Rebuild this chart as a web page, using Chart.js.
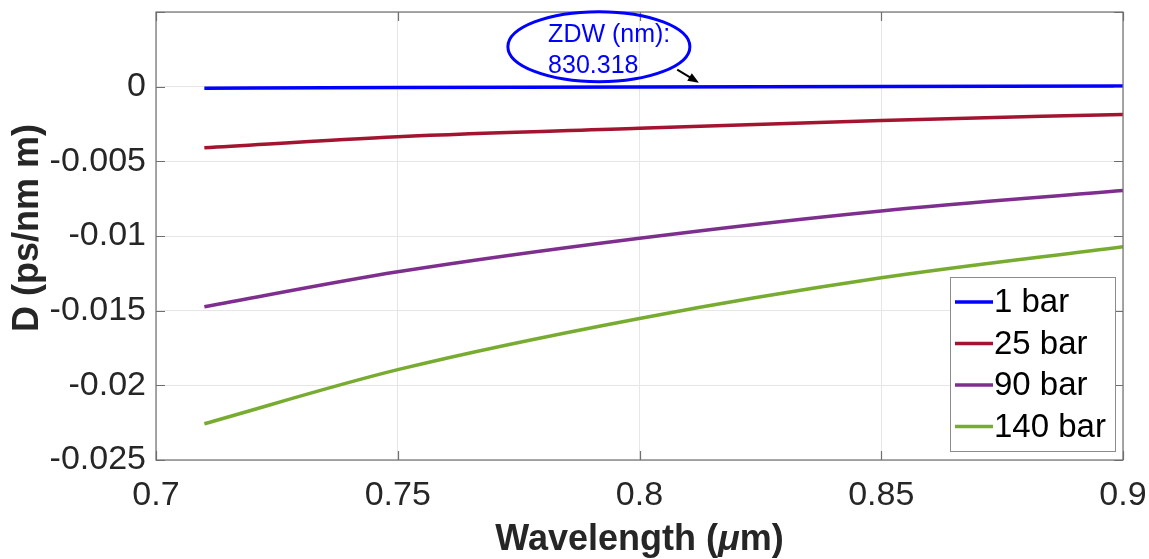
<!DOCTYPE html>
<html>
<head>
<meta charset="utf-8">
<script src="https://cdn.jsdelivr.net/npm/chart.js@4.4.0/dist/chart.umd.min.js"></script>
<style>
    html, body { margin: 0; padding: 0; background: #fff; }
    #wrap { width: 1149px; height: 559px; position: relative; }
</style>
</head>
<body>
<div id="wrap"><canvas id="myCanvas"></canvas></div>
<script>
// dispersion D (ps/nm m) vs wavelength (um) for each pressure
const wavelength = [0.71, 0.75, 0.8, 0.85, 0.9];
const d1bar = [-0.0001, -0.00006, -0.00002, 0.00001, 0.00004];
const d25bar = [-0.00409, -0.00336, -0.00279, -0.00226, -0.00186];
const d90bar = [-0.01474, -0.0124, -0.01015, -0.00832, -0.00696];
const d140bar = [-0.02257, -0.01895, -0.01552, -0.0128, -0.01072];
const seriesNames = ["1 bar", "25 bar", "90 bar", "140 bar"];
const seriesColors = ["#0000ff", "#a2142f", "#7e2f8e", "#77ac30"];

const xTicks = [0.7, 0.75, 0.8, 0.85, 0.9];
const xTickLabels = ["0.7", "0.75", "0.8", "0.85", "0.9"];
const yTicks = [-0.025, -0.02, -0.015, -0.01, -0.005, 0, 0.005];
const yTickLabels = ["-0.025", "-0.02", "-0.015", "-0.01", "-0.005", "0", ""];

const zdwLines = ["ZDW (nm):", "830.318"];

const FONT = "'Liberation Sans', Arial, Helvetica, sans-serif";

function toPoints(ys) {
    return wavelength.map((x, i) => ({ x: x, y: ys[i] }));
}

const allSeries = [d1bar, d25bar, d90bar, d140bar];
const data = {
    datasets: allSeries.map((s, i) => ({
        label: seriesNames[i],
        data: toPoints(s),
        borderColor: seriesColors[i],
        backgroundColor: seriesColors[i],
        borderWidth: 3.5,
        pointRadius: 0,
        fill: false,
        cubicInterpolationMode: "monotone",
    })),
};

// box, inward ticks, callout, legend and axis titles
const framePlugin = {
    id: "frame",
    afterDatasetsDraw(chart) {
        const { ctx, chartArea: a, scales } = chart;
        const x = scales.x, y = scales.y;
        ctx.save();

        ctx.strokeStyle = "#6f6f6f";
        ctx.lineWidth = 1.2;
        ctx.strokeRect(a.left, a.top, a.right - a.left, a.bottom - a.top);

        const tl = 9;
        ctx.beginPath();
        yTicks.forEach((v) => {
            const py = Math.round(y.getPixelForValue(v)) + 0.5;
            ctx.moveTo(a.left, py); ctx.lineTo(a.left + tl, py);
            ctx.moveTo(a.right, py); ctx.lineTo(a.right - tl, py);
        });
        xTicks.forEach((v) => {
            const px = Math.round(x.getPixelForValue(v)) + 0.5;
            ctx.moveTo(px, a.bottom); ctx.lineTo(px, a.bottom - tl);
            ctx.moveTo(px, a.top); ctx.lineTo(px, a.top + tl);
        });
        ctx.stroke();

        // ZDW callout
        const cx = x.getPixelForValue(0.7916), cy = y.getPixelForValue(0.00268);
        ctx.strokeStyle = "#0000ff";
        ctx.lineWidth = 3;
        ctx.beginPath();
        ctx.ellipse(cx, cy, 91, 35, 0, 0, Math.PI * 2);
        ctx.stroke();
        ctx.fillStyle = "#0000ff";
        ctx.font = "25px " + FONT;
        ctx.textAlign = "left";
        ctx.textBaseline = "alphabetic";
        const tx = x.getPixelForValue(0.7811);
        ctx.fillText(zdwLines[0], tx, y.getPixelForValue(0.00302));
        ctx.fillText(zdwLines[1], tx, y.getPixelForValue(0.00094));

        const ax0 = x.getPixelForValue(0.8078), ay0 = y.getPixelForValue(0.00114);
        const ax1 = x.getPixelForValue(0.8123), ay1 = y.getPixelForValue(0.00027);
        const ang = Math.atan2(ay1 - ay0, ax1 - ax0);
        ctx.strokeStyle = "#000";
        ctx.fillStyle = "#000";
        ctx.lineWidth = 2;
        ctx.beginPath();
        ctx.moveTo(ax0, ay0);
        ctx.lineTo(ax1 - 6 * Math.cos(ang), ay1 - 6 * Math.sin(ang));
        ctx.stroke();
        ctx.beginPath();
        ctx.moveTo(ax1, ay1);
        ctx.lineTo(ax1 - 11 * Math.cos(ang) + 4.5 * Math.sin(ang), ay1 - 11 * Math.sin(ang) - 4.5 * Math.cos(ang));
        ctx.lineTo(ax1 - 11 * Math.cos(ang) - 4.5 * Math.sin(ang), ay1 - 11 * Math.sin(ang) + 4.5 * Math.cos(ang));
        ctx.closePath();
        ctx.fill();

        // legend box in lower right corner
        const lw = 165, lh = 174;
        const lx = a.right - 8 - lw, ly = a.bottom - 9 - lh;
        ctx.fillStyle = "#fff";
        ctx.fillRect(lx, ly, lw, lh);
        ctx.strokeStyle = "#8c8c8c";
        ctx.lineWidth = 1;
        ctx.strokeRect(lx + 0.5, ly + 0.5, lw, lh);
        ctx.font = "33px " + FONT;
        ctx.textBaseline = "middle";
        chart.data.datasets.forEach((ds, i) => {
            const ry = ly + 25 + i * 41.5;
            ctx.strokeStyle = ds.borderColor;
            ctx.lineWidth = 3.5;
            ctx.beginPath();
            ctx.moveTo(lx + 5, ry);
            ctx.lineTo(lx + 43, ry);
            ctx.stroke();
            ctx.fillStyle = "#000";
            ctx.fillText(ds.label, lx + 44, ry + 1);
        });

        // axis titles
        ctx.fillStyle = "#262626";
        const parts = [
            ["bold 36px " + FONT, "Wavelength ("],
            ["italic bold 36px " + FONT, "\u03bc"],
            ["bold 36px " + FONT, "m)"],
        ];
        let total = 0;
        parts.forEach((p) => { ctx.font = p[0]; total += ctx.measureText(p[1]).width; });
        let px = (a.left + a.right) / 2 - total / 2;
        ctx.textAlign = "left";
        ctx.textBaseline = "middle";
        parts.forEach((p) => {
            ctx.font = p[0];
            ctx.fillText(p[1], px, 540);
            px += ctx.measureText(p[1]).width;
        });

        ctx.translate(28, 228);
        ctx.rotate(-Math.PI / 2);
        ctx.textAlign = "center";
        ctx.font = "bold 36px " + FONT;
        ctx.fillText("D (ps/nm m)", 0, 0);

        ctx.restore();
    },
};

new Chart(document.getElementById("myCanvas"), {
    type: "line",
    data,
    plugins: [framePlugin],
    options: {
        responsive: true,
        maintainAspectRatio: false,
        animation: false,
        layout: { padding: { top: 12, right: 26, left: 0, bottom: 0 } },
        plugins: {
            legend: { display: false },
            tooltip: { enabled: false },
        },
        scales: {
            x: {
                type: "linear",
                min: 0.7,
                max: 0.9,
                afterBuildTicks: (scale) => { scale.ticks = xTicks.map((v) => ({ value: v })); },
                afterFit: (scale) => {
                    scale.height = 99;
                    scale.paddingLeft = 0;
                    scale.paddingRight = 0;
                },
                grid: { color: "#e6e6e6", lineWidth: 1, drawTicks: false },
                border: { display: false },
                ticks: {
                    padding: 15,
                    color: "#262626",
                    maxRotation: 0,
                    font: { family: FONT, size: 34 },
                    callback: (value, index) => xTickLabels[index],
                },
            },
            y: {
                min: -0.025,
                max: 0.005,
                afterBuildTicks: (scale) => { scale.ticks = yTicks.map((v) => ({ value: v })); },
                afterFit: (scale) => {
                    scale.width = 156;
                    scale.paddingTop = 0;
                    scale.paddingBottom = 0;
                },
                grid: { color: "#e6e6e6", lineWidth: 1, drawTicks: false },
                border: { display: false },
                ticks: {
                    padding: 10,
                    color: "#262626",
                    font: { family: FONT, size: 34 },
                    callback: (value, index) => yTickLabels[index],
                },
            },
        },
    },
});
</script>
</body>
</html>
